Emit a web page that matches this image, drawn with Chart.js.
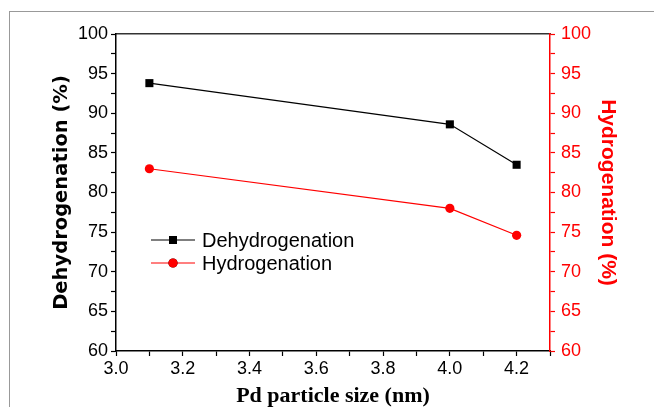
<!DOCTYPE html>
<html>
<head>
<meta charset="utf-8">
<script src="https://cdn.jsdelivr.net/npm/chart.js@4.4.1/dist/chart.umd.min.js"></script>
<style>
    html, body { margin: 0; padding: 0; background: #fff; }
    #wrap { position: relative; width: 654px; height: 407px; overflow: hidden; }
    #frame { position: absolute; left: 9px; top: 11px; right: 0; bottom: 0;
             border-left: 1px solid #999; border-top: 1.5px solid #999; }
    #chart { position: absolute; left: 0; top: 0; }
</style>
</head>
<body>
<div id="wrap">
    <div id="frame"></div>
    <canvas id="chart" width="654" height="407"></canvas>
</div>
<script>
// particle size (nm)
const sizes = [3.1, 4.0, 4.2];
const dehydrogenation = [93.8, 88.6, 83.5];
const hydrogenation = [83.0, 78.0, 74.6];
const seriesNames = ['Dehydrogenation', 'Hydrogenation'];
const xTitle = 'Pd particle size (nm)';
const yTitle = 'Dehydrogenation (%)';
const y2Title = 'Hydrogenation (%)';

const SANS = "'Liberation Sans', Arial, sans-serif";

function toPoints(xs, ys) {
    return xs.map(function(x, i) { return { x: x, y: ys[i] }; });
}

// legend drawn as line + marker, like the original plot
const lineLegend = {
    id: 'lineLegend',
    afterDatasetsDraw: function(chart) {
        const ctx = chart.ctx;
        const rows = [240, 263];
        ctx.save();
        chart.data.datasets.forEach(function(ds, i) {
            const y = rows[i];
            ctx.strokeStyle = ds.borderColor;
            ctx.lineWidth = ds.borderWidth;
            ctx.beginPath();
            ctx.moveTo(151, y);
            ctx.lineTo(195, y);
            ctx.stroke();
            Chart.helpers.drawPoint(ctx, {
                pointStyle: ds.pointStyle,
                radius: ds.pointRadius,
                borderWidth: 0
            }, 173, y);
            ctx.fillStyle = ds.pointBackgroundColor;
            ctx.fill();
            ctx.fillStyle = '#000';
            ctx.font = '20px ' + SANS;
            ctx.textBaseline = 'middle';
            ctx.fillText(ds.label, 202, y + 1);
        });
        ctx.restore();
    }
};

const yMinorLabel = function(color) {
    return {
        color: color,
        font: { size: 18, family: SANS },
        stepSize: 2.5,
        autoSkip: false,
        callback: function(v) { return v % 5 === 0 ? String(v) : ''; }
    };
};

const ctx = document.getElementById('chart').getContext('2d');
const chart = new Chart(ctx, {
    type: 'scatter',
    data: {
        datasets: [{
            label: seriesNames[0],
            data: toPoints(sizes, dehydrogenation),
            showLine: true,
            borderColor: '#000',
            borderWidth: 1.2,
            backgroundColor: '#000',
            pointBackgroundColor: '#000',
            pointBorderWidth: 0,
            pointStyle: 'rect',
            pointRadius: 5.7,
            yAxisID: 'y'
        }, {
            label: seriesNames[1],
            data: toPoints(sizes, hydrogenation),
            showLine: true,
            borderColor: '#ff0000',
            borderWidth: 1.2,
            backgroundColor: '#ff0000',
            pointBackgroundColor: '#ff0000',
            pointBorderWidth: 0,
            pointStyle: 'circle',
            pointRadius: 4.6,
            yAxisID: 'y2'
        }]
    },
    options: {
        responsive: false,
        devicePixelRatio: 1,
        animation: false,
        layout: { padding: 0 },
        plugins: {
            legend: { display: false },
            tooltip: { enabled: false }
        },
        scales: {
            x: {
                type: 'linear',
                position: 'bottom',
                min: 3.0,
                max: 4.3,
                afterFit: function(s) { s.height = 56; },
                border: { color: '#000', width: 1.5 },
                grid: { drawOnChartArea: false, tickLength: 5, tickColor: '#000', tickWidth: 1.2 },
                ticks: {
                    color: '#000',
                    font: { size: 18, family: SANS },
                    stepSize: 0.1,
                    autoSkip: false,
                    maxRotation: 0,
                    padding: 2,
                    callback: function(v) {
                        const r = Math.round(v * 10);
                        return r % 2 === 0 ? (r / 10).toFixed(1) : '';
                    }
                },
                title: {
                    display: true,
                    text: xTitle,
                    color: '#000',
                    font: { size: 22, weight: 'bold', family: "'Liberation Serif', 'Times New Roman', serif", lineHeight: 1 },
                    padding: { top: 0, bottom: 0 }
                }
            },
            x2: {
                type: 'linear',
                position: 'top',
                min: 3.0,
                max: 4.3,
                afterFit: function(s) { s.height = 34; },
                border: { color: '#333', width: 1.5 },
                grid: { display: false },
                ticks: { display: false }
            },
            y: {
                type: 'linear',
                position: 'left',
                min: 60,
                max: 100,
                afterFit: function(s) { s.width = 116; },
                border: { color: '#000', width: 1.5 },
                grid: { drawOnChartArea: false, tickLength: 5, tickColor: '#000', tickWidth: 1.2 },
                ticks: Object.assign(yMinorLabel('#000'), { padding: 3 }),
                title: {
                    display: true,
                    text: yTitle,
                    color: '#000',
                    font: { size: 19.5, weight: 'bold', family: "'DejaVu Sans', sans-serif", lineHeight: 1 },
                    padding: { top: 52, bottom: 0 }
                }
            },
            y2: {
                type: 'linear',
                position: 'right',
                min: 60,
                max: 100,
                afterFit: function(s) { s.width = 104; },
                border: { color: '#ff0000', width: 1.5 },
                grid: { drawOnChartArea: false, tickLength: 5, tickColor: '#ff0000', tickWidth: 1.2 },
                ticks: Object.assign(yMinorLabel('#ff0000'), { padding: 6 }),
                title: {
                    display: true,
                    text: y2Title,
                    color: '#ff0000',
                    font: { size: 21, weight: 'bold', family: SANS, lineHeight: 1 },
                    padding: { top: 36, bottom: 0 }
                }
            }
        }
    },
    plugins: [lineLegend]
});
</script>
</body>
</html>
